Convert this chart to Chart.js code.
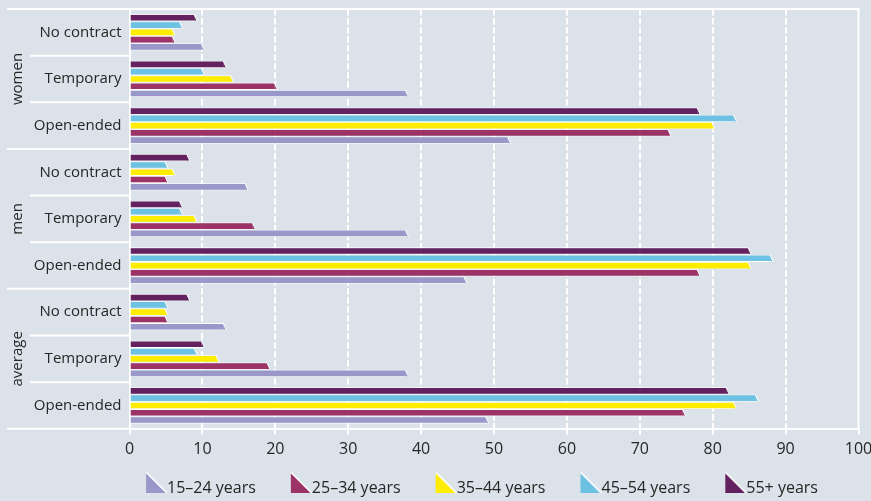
<!DOCTYPE html>
<html><head><meta charset="utf-8">
<script src="https://cdn.jsdelivr.net/npm/chart.js@4/dist/chart.umd.min.js"></script>
<style>html,body{margin:0;padding:0;background:#dbe2e9;overflow:hidden}</style>
</head><body>
<canvas id="c" width="871" height="501"></canvas>
<script>
// ---- data ----
const groups = ['women', 'men', 'average'];
const contractTypes = ['No contract', 'Temporary', 'Open-ended'];
const categories = [
  'No contract', 'Temporary', 'Open-ended',
  'No contract', 'Temporary', 'Open-ended',
  'No contract', 'Temporary', 'Open-ended'
];
const seriesNames = ['15–24 years', '25–34 years', '35–44 years', '45–54 years', '55+ years'];
const age15_24 = [10, 38, 52, 16, 38, 46, 13, 38, 49];
const age25_34 = [6, 20, 74, 5, 17, 78, 5, 19, 76];
const age35_44 = [6, 14, 80, 6, 9, 85, 5, 12, 83];
const age45_54 = [7, 10, 83, 5, 7, 88, 5, 9, 86];
const age55plus = [9, 13, 78, 8, 7, 85, 8, 10, 82];
const xTickValues = [0, 10, 20, 30, 40, 50, 60, 70, 80, 90, 100];

// ---- styles ----
const seriesColors = ['#9a98c9', '#9c3366', '#ffed00', '#6dc1e2', '#63215f'];
const seriesData = [age15_24, age25_34, age35_44, age45_54, age55plus];
const FONT = '"Open Sans", "Noto Sans", sans-serif';
const TEXT = '#262626';
const LEG_B = 37;

function makeIcon(color) {
  const W = LEG_B + 18, H = 32;
  const cv = document.createElement('canvas');
  cv.width = W; cv.height = H;
  const c = cv.getContext('2d');
  const l = W - 22, t = 1, r = W - 2, b = 21;
  c.beginPath(); c.moveTo(l, t); c.lineTo(r, b); c.lineTo(l, b); c.closePath();
  c.fillStyle = color; c.fill();
  c.strokeStyle = '#fff'; c.lineWidth = 1.5;
  c.beginPath(); c.moveTo(l + 0.3, t - 0.6); c.lineTo(r + 0.8, b); c.stroke();
  return cv;
}
const icons = seriesColors.map(makeIcon);

// datasets: 55+ first so it sits on top of each group
const datasets = [];
for (let i = seriesNames.length - 1; i >= 0; i--) {
  datasets.push({
    label: seriesNames[i],
    data: seriesData[i],
    backgroundColor: seriesColors[i],
    borderColor: '#ffffff',
    borderWidth: 0.8,
    borderSkipped: 'start',
    categoryPercentage: 0.78,
    barPercentage: 1.0,
    seriesIndex: i
  });
}

const frame = {
  id: 'frame',
  afterLayout(chart) {
    const lg = chart.legend;
    if (!lg || !lg.lineWidths) return;
    const p = lg.options.labels.padding;
    const B = lg.options.labels.pointStyleWidth;
    const LW = lg.lineWidths[0];
    const startX = (lg.left + p + lg.right - LW) / 2;
    const visCenter = startX + (B - 13 + LW - p) / 2;
    const dx = 482 - visCenter;
    const dy = 488 - (lg.top + p + 8);
    lg.left += dx; lg.right += dx; lg.top += dy; lg.bottom += dy;
  },
  beforeDatasetsDraw(chart) {
    const {ctx, chartArea: a, scales: {x}} = chart;
    ctx.save();
    ctx.strokeStyle = '#ffffff';
    ctx.lineWidth = 2;
    ctx.setLineDash([6.5, 2.5]);
    xTickValues.forEach(v => {
      if (v === 0 || v === 100) return;
      const px = Math.round(x.getPixelForValue(v));
      ctx.beginPath(); ctx.moveTo(px, a.top); ctx.lineTo(px, a.bottom); ctx.stroke();
    });
    ctx.restore();
  },
  afterDatasetsDraw(chart) {
    // bevelled bar ends (style only; geometry comes from the bar elements)
    const {ctx} = chart;
    ctx.save();
    chart.data.datasets.forEach((ds, di) => {
      const meta = chart.getDatasetMeta(di);
      meta.data.forEach(el => {
        const {x, y, height} = el.getProps(['x', 'y', 'height'], true);
        const top = y - height / 2 + 0.8, bot = y + height / 2 - 0.8;
        const x0 = x - 1.0, x1 = x + 1.6;
        ctx.beginPath();
        ctx.moveTo(x0, top); ctx.lineTo(x1, bot); ctx.lineTo(x0, bot); ctx.closePath();
        ctx.fillStyle = ds.backgroundColor; ctx.fill();
        ctx.strokeStyle = '#ffffff'; ctx.lineWidth = 0.9;
        ctx.beginPath(); ctx.moveTo(x0, top - 0.4); ctx.lineTo(x1 + 0.4, bot + 0.4); ctx.stroke();
      });
    });
    ctx.restore();
  },
  afterDraw(chart) {
    const {ctx, chartArea: a, scales: {y}} = chart;
    const farLeft = 7;
    ctx.save();
    ctx.strokeStyle = '#ffffff';
    ctx.lineWidth = 2;
    const line = (x1, y1, x2, y2) => { ctx.beginPath(); ctx.moveTo(x1, y1); ctx.lineTo(x2, y2); ctx.stroke(); };
    line(farLeft, a.top, a.right + 1, a.top);
    line(a.right, a.top, a.right, a.bottom);
    line(farLeft, a.bottom, a.left, a.bottom);
    for (let i = 1; i < categories.length; i++) {
      const yy = (y.getPixelForTick(i - 1) + y.getPixelForTick(i)) / 2;
      line(i % 3 === 0 ? farLeft : 30, yy, a.left, yy);
    }
    ctx.fillStyle = TEXT;
    ctx.font = '15px ' + FONT;
    ctx.textAlign = 'center';
    ctx.textBaseline = 'middle';
    groups.forEach((g, gi) => {
      const cy = y.getPixelForTick(gi * 3 + 1);
      ctx.save();
      ctx.translate(18, cy);
      ctx.rotate(-Math.PI / 2);
      ctx.fillText(g, 0, 0);
      ctx.restore();
    });
    ctx.restore();
  }
};

new Chart(document.getElementById('c'), {
  type: 'bar',
  data: { labels: categories, datasets },
  options: {
    indexAxis: 'y',
    responsive: false,
    animation: false,
    devicePixelRatio: 1,
    layout: { padding: { left: 7, right: 12.5, top: 9, bottom: 0 } },
    scales: {
      x: {
        min: 0, max: 100,
        afterBuildTicks(scale) { scale.ticks = xTickValues.map(v => ({ value: v })); },
        afterFit(scale) { scale.paddingLeft = 0; scale.paddingRight = 0; },
        grid: {
          color: 'rgba(0,0,0,0)',
          lineWidth: 2,
          tickColor: '#ffffff',
          tickWidth: 2,
          tickLength: 6,
          drawTicks: true
        },
        border: { display: true, color: '#ffffff', width: 2 },
        ticks: { color: TEXT, padding: 5, font: { family: FONT, size: 16 } }
      },
      y: {
        afterFit(scale) { scale.width = 122.5; scale.paddingTop = 0; scale.paddingBottom = 0; },
        grid: { display: false, drawTicks: false },
        border: { display: true, color: '#ffffff', width: 2 },
        ticks: { color: TEXT, padding: 8, font: { family: FONT, size: 15 } }
      }
    },
    plugins: {
      tooltip: { enabled: false },
      legend: {
        position: 'bottom',
        reverse: true,
        labels: {
          usePointStyle: true,
          pointStyleWidth: LEG_B,
          padding: 11,
          color: TEXT,
          font: { family: FONT, size: 16 },
          generateLabels(chart) {
            const items = Chart.defaults.plugins.legend.labels.generateLabels(chart);
            items.forEach(it => {
              const ds = chart.data.datasets[it.datasetIndex];
              it.pointStyle = icons[ds.seriesIndex];
            });
            return items;
          }
        }
      }
    }
  },
  plugins: [frame]
});
</script>
</body></html>
